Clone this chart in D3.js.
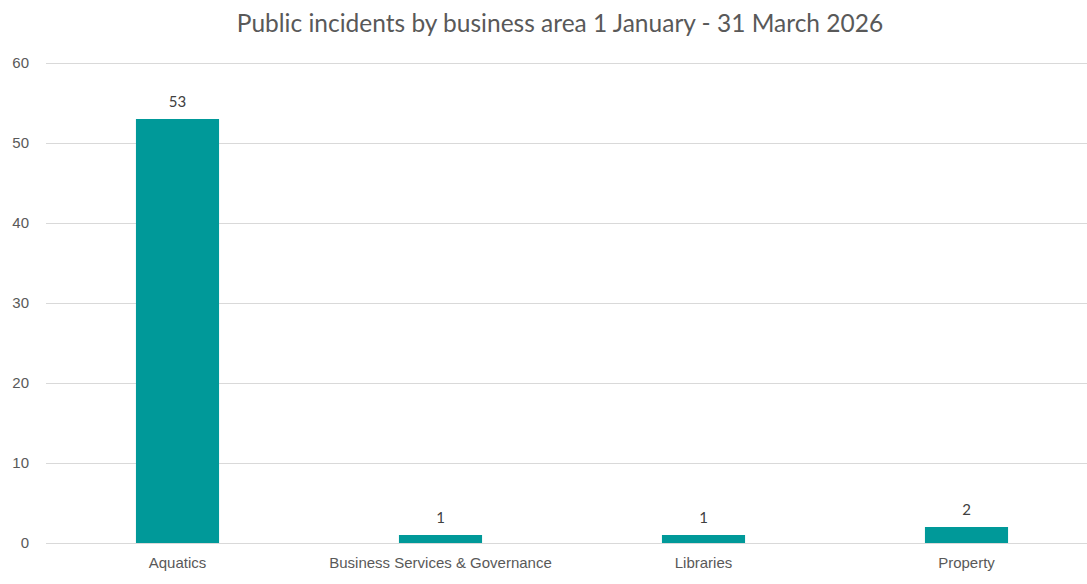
<!DOCTYPE html>
<html>
<head>
<meta charset="utf-8">
<script src="https://cdn.jsdelivr.net/npm/d3@7"></script>
<style>
  html, body { margin: 0; padding: 0; background: #fff; }
  svg { display: block; font-family: "Lato", "Liberation Sans", sans-serif; }
</style>
</head>
<body>
<svg id="chart" width="1087" height="584"></svg>
<script>
const categories = ["Aquatics", "Business Services & Governance", "Libraries", "Property"];
const incidents = [53, 1, 1, 2];
const yTicks = [0, 10, 20, 30, 40, 50, 60];
const chartTitle = "Public incidents by business area 1 January - 31 March 2026";

const svg = d3.select("#chart");
const textColor = "#595959";
const barColor = "#009999";
const gridColor = "#d9d9d9";

const x = d3.scaleBand()
  .domain(categories)
  .range([46, 1098])
  .paddingInner(0.684)
  .paddingOuter(0.342);

const y = d3.scaleLinear()
  .domain([0, 60])
  .range([543, 63]);

// Horizontal gridlines with value labels on the left
const yAxis = d3.axisLeft(y)
  .tickValues(yTicks)
  .tickSize(-(1098 - 46))
  .tickPadding(17)
  .tickFormat(d3.format("d"));

const gy = svg.append("g")
  .attr("transform", "translate(46,0)")
  .call(yAxis);
gy.select(".domain").remove();
gy.selectAll(".tick line").attr("stroke", gridColor).attr("stroke-width", 1);
gy.selectAll(".tick text")
  .attr("fill", textColor)
  .attr("font-size", 15);

// Bars
svg.append("g")
  .selectAll("rect")
  .data(categories)
  .join("rect")
  .attr("x", d => x(d))
  .attr("width", x.bandwidth())
  .attr("y", (d, i) => y(incidents[i]))
  .attr("height", (d, i) => y(0) - y(incidents[i]))
  .attr("fill", barColor);

// Value labels above bars
svg.append("g")
  .selectAll("text")
  .data(categories)
  .join("text")
  .attr("x", d => x(d) + x.bandwidth() / 2)
  .attr("y", (d, i) => y(incidents[i]) - 12)
  .attr("text-anchor", "middle")
  .attr("fill", "#404040")
  .attr("font-size", 15)
  .text((d, i) => incidents[i]);

// Category axis
const xAxis = d3.axisBottom(x).tickSize(0).tickPadding(14);
const gx = svg.append("g")
  .attr("transform", "translate(0,543)")
  .call(xAxis);
gx.select(".domain").attr("stroke", gridColor);
gx.selectAll(".tick text")
  .attr("fill", textColor)
  .attr("font-size", 15);

// Title
svg.append("text")
  .attr("x", 560)
  .attr("y", 32)
  .attr("text-anchor", "middle")
  .attr("fill", textColor)
  .attr("font-size", 24.5)
  .text(chartTitle);
</script>
</body>
</html>
